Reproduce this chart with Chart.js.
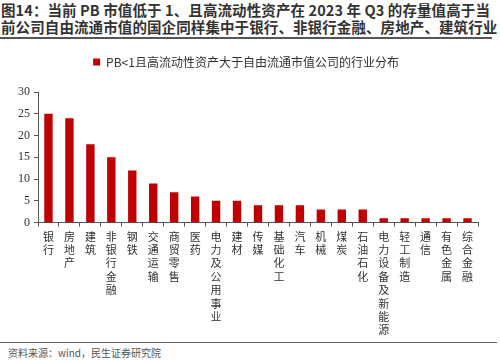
<!DOCTYPE html>
<html>
<head>
<meta charset="utf-8">
<script src="https://cdn.jsdelivr.net/npm/chart.js@4.4.0/dist/chart.umd.min.js"></script>
<style>
  html, body { margin: 0; padding: 0; background: #fff; }
  body { width: 500px; height: 361px; position: relative; overflow: hidden;
         font-family: "Noto Sans CJK SC", "Noto Sans", sans-serif; }
  #title { position: absolute; left: 1px; top: 1px; width: 495px;
           font-size: 14.5px; font-weight: bold; line-height: 17px; color: #333;
           letter-spacing: 0.1px; white-space: nowrap; }
  #rule1 { position: absolute; left: 0; top: 37px; width: 492px; height: 1.5px; background: #555; }
  #wrap { position: absolute; left: 0; top: 42px; width: 500px; height: 298px; }
  #rule2 { position: absolute; left: 0; top: 342px; width: 497px; height: 1px; background: #666; }
  #source { position: absolute; left: 8px; top: 345px; font-size: 10px; color: #555; white-space: nowrap; }
</style>
</head>
<body>
<div id="title">图14：当前 PB 市值低于 1、且高流动性资产在 2023 年 Q3 的存量值高于当<br>前公司自由流通市值的国企同样集中于银行、非银行金融、房地产、建筑行业</div>
<div id="rule1"></div>
<div id="wrap"><canvas id="chart"></canvas></div>
<div id="rule2"></div>
<div id="source">资料来源：wind，民生证券研究院</div>
<script>
/* ------------------------------------------------------------
   Data
------------------------------------------------------------ */
var INDUSTRIES = [
  '银行', '房地产', '建筑', '非银行金融', '钢铁', '交通运输', '商贸零售',
  '医药', '电力及公用事业', '建材', '传媒', '基础化工', '汽车', '机械',
  '煤炭', '石油石化', '电力设备及新能源', '轻工制造', '通信', '有色金属', '综合金融'
];
var COUNTS = [25, 24, 18, 15, 12, 9, 7, 6, 5, 5, 4, 4, 4, 3, 3, 3, 1, 1, 1, 1, 1];
var Y_TICKS = [0, 5, 10, 15, 20, 25, 30];
var SERIES_NAME = 'PB<1且高流动性资产大于自由流通市值公司的行业分布';

var BAR_RED = '#C00000';

// vertical labels: one character per line, kept upright
var verticalLabels = INDUSTRIES.map(function (s) { return s.split(''); });

// extra room between the legend and the plot
var legendGap = {
  id: 'legendGap',
  beforeInit: function (chart) {
    var origFit = chart.legend.fit;
    chart.legend.fit = function () {
      origFit.bind(chart.legend)();
      this.height += 14;
    };
  }
};

new Chart(document.getElementById('chart'), {
  type: 'bar',
  data: {
    labels: verticalLabels,
    datasets: [{
      label: SERIES_NAME,
      data: COUNTS,
      backgroundColor: BAR_RED,
      borderWidth: 0,
      barPercentage: 0.4,
      categoryPercentage: 1.0
    }]
  },
  options: {
    responsive: true,
    maintainAspectRatio: false,
    animation: false,
    layout: { padding: { left: 14, right: 22, top: 10, bottom: 0 } },
    plugins: {
      tooltip: { enabled: false },
      legend: {
        display: true,
        position: 'top',
        labels: {
          boxWidth: 7,
          boxHeight: 7,
          padding: 4,
          color: '#333',
          font: { family: '"Noto Sans CJK SC"', size: 12 }
        }
      }
    },
    scales: {
      x: {
        grid: { display: true, drawOnChartArea: false, drawTicks: true, tickLength: 4, color: '#555', offset: true },
        border: { display: true, color: '#555', width: 1 },
        ticks: {
          autoSkip: false,
          maxRotation: 0,
          minRotation: 0,
          padding: 3,
          color: '#333',
          font: { family: '"Noto Sans CJK SC"', size: 11, lineHeight: 1.22 }
        }
      },
      y: {
        min: 0,
        max: 30,
        afterBuildTicks: function (axis) {
          axis.ticks = Y_TICKS.map(function (v) { return { value: v }; });
        },
        grid: { display: true, drawOnChartArea: false, drawTicks: true, tickLength: 4, color: '#555' },
        border: { display: true, color: '#555', width: 1 },
        ticks: {
          padding: 4,
          color: '#333',
          font: { family: '"Liberation Serif"', size: 12 }
        }
      }
    }
  },
  plugins: [legendGap]
});
</script>
</body>
</html>
